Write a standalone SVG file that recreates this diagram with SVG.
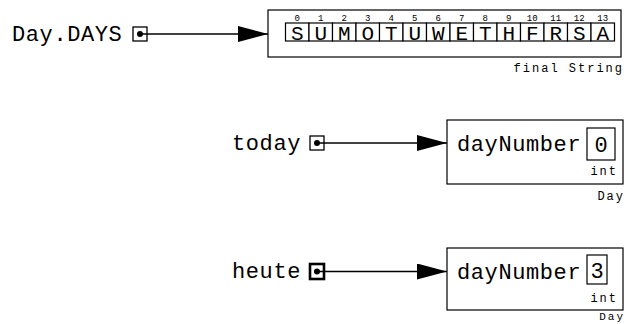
<svg xmlns="http://www.w3.org/2000/svg" width="637" height="324" viewBox="0 0 637 324">
<style>
.big{font-family:"Liberation Mono","DejaVu Sans Mono",monospace;font-size:22px;letter-spacing:0.6px;fill:#000}
.cell{font-family:"Liberation Mono","DejaVu Sans Mono",monospace;font-size:21px;fill:#000;text-anchor:middle}
.idx{font-family:"Liberation Mono","DejaVu Sans Mono",monospace;font-size:9px;fill:#000;text-anchor:middle}
.small{font-family:"Liberation Mono","DejaVu Sans Mono",monospace;font-size:12px;letter-spacing:2px;fill:#000;text-anchor:end}
.box{fill:#fff;stroke:#000;stroke-width:1.2}
.ptr{fill:#fff;stroke:#000;stroke-width:1.3}
.line{stroke:#000;stroke-width:1.3;fill:none}
</style>
<defs>
<marker id="ah" markerWidth="30" markerHeight="16" refX="30" refY="8" orient="auto" markerUnits="userSpaceOnUse">
<path d="M0,0 L30,8 L0,16 Z" fill="#000"/>
</marker>
</defs>

<g id="days-var">
<text class="big" x="12" y="41">Day.DAYS</text>
<rect class="ptr" x="133" y="27" width="14" height="14"/>
<circle cx="140" cy="34" r="3" fill="#000"/>
</g>

<g id="string-obj">
<rect class="box" x="268" y="10" width="353" height="47"/>
<g id="cells">
<rect class="box" x="285.5" y="23" width="23.5" height="18"/>
<rect class="box" x="309" y="23" width="23.5" height="18"/>
<rect class="box" x="332.5" y="23" width="23.5" height="18"/>
<rect class="box" x="356" y="23" width="23.5" height="18"/>
<rect class="box" x="379.5" y="23" width="23.5" height="18"/>
<rect class="box" x="403" y="23" width="23.5" height="18"/>
<rect class="box" x="426.5" y="23" width="23.5" height="18"/>
<rect class="box" x="450" y="23" width="23.5" height="18"/>
<rect class="box" x="473.5" y="23" width="23.5" height="18"/>
<rect class="box" x="497" y="23" width="23.5" height="18"/>
<rect class="box" x="520.5" y="23" width="23.5" height="18"/>
<rect class="box" x="544" y="23" width="23.5" height="18"/>
<rect class="box" x="567.5" y="23" width="23.5" height="18"/>
<rect class="box" x="591" y="23" width="23.5" height="18"/>
</g>
<text class="cell" x="297.25" y="39.5">S</text>
<text class="cell" x="320.75" y="39.5">U</text>
<text class="cell" x="344.25" y="39.5">M</text>
<text class="cell" x="367.75" y="39.5">O</text>
<text class="cell" x="391.25" y="39.5">T</text>
<text class="cell" x="414.75" y="39.5">U</text>
<text class="cell" x="438.25" y="39.5">W</text>
<text class="cell" x="461.75" y="39.5">E</text>
<text class="cell" x="485.25" y="39.5">T</text>
<text class="cell" x="508.75" y="39.5">H</text>
<text class="cell" x="532.25" y="39.5">F</text>
<text class="cell" x="555.75" y="39.5">R</text>
<text class="cell" x="579.25" y="39.5">S</text>
<text class="cell" x="602.75" y="39.5">A</text>
<text class="idx" x="297.25" y="21">0</text>
<text class="idx" x="320.75" y="21">1</text>
<text class="idx" x="344.25" y="21">2</text>
<text class="idx" x="367.75" y="21">3</text>
<text class="idx" x="391.25" y="21">4</text>
<text class="idx" x="414.75" y="21">5</text>
<text class="idx" x="438.25" y="21">6</text>
<text class="idx" x="461.75" y="21">7</text>
<text class="idx" x="485.25" y="21">8</text>
<text class="idx" x="508.75" y="21">9</text>
<text class="idx" x="532.25" y="21">10</text>
<text class="idx" x="555.75" y="21">11</text>
<text class="idx" x="579.25" y="21">12</text>
<text class="idx" x="602.75" y="21">13</text>
<text class="small" x="624" y="72">final String</text>
</g>

<g id="today-var">
<text class="big" x="232" y="150">today</text>
<rect class="ptr" x="310" y="136" width="14" height="14"/>
<circle cx="317" cy="143" r="3" fill="#000"/>
</g>

<g id="today-obj">
<rect class="box" x="447" y="120" width="176" height="64"/>
<text class="big" x="457" y="151">dayNumber</text>
<rect class="box" x="587" y="128" width="28" height="32"/>
<text class="cell" x="601" y="152" style="font-size:22px">0</text>
<text class="small" x="618" y="175">int</text>
<text class="small" x="625" y="200">Day</text>
</g>

<g id="heute-var">
<text class="big" x="232" y="278">heute</text>
<rect x="310" y="264" width="14" height="15" fill="#fff" stroke="#000" stroke-width="2.6"/>
<circle cx="317" cy="271.5" r="3" fill="#000"/>
</g>

<g id="heute-obj">
<rect class="box" x="447" y="248" width="176" height="62"/>
<text class="big" x="457" y="279">dayNumber</text>
<rect class="box" x="587" y="255" width="20" height="29"/>
<text class="cell" x="597" y="278" style="font-size:22px">3</text>
<text class="small" x="618" y="302">int</text>
<text class="small" x="625" y="319.5" style="font-size:11px">Day</text>
</g>

<g id="connectors">
<line class="line" x1="140" y1="34" x2="268" y2="34" marker-end="url(#ah)"/>
<line class="line" x1="317" y1="143" x2="447" y2="143" marker-end="url(#ah)"/>
<line class="line" x1="317" y1="271.5" x2="447" y2="271.5" marker-end="url(#ah)"/>
</g>
</svg>
